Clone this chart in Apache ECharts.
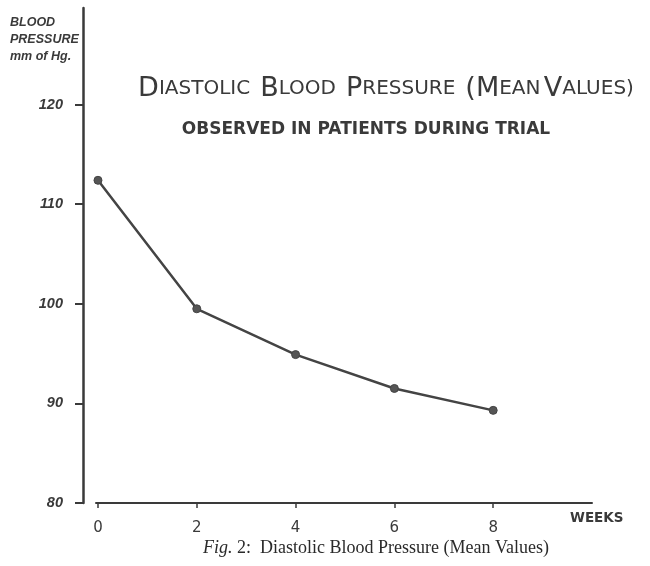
<!DOCTYPE html>
<html>
<head>
<meta charset="utf-8">
<script src="https://cdn.jsdelivr.net/npm/echarts@6/dist/echarts.min.js"></script>
<style>
html,body{margin:0;padding:0;background:#ffffff;}
#chart{width:650px;height:566px;}
</style>
</head>
<body>
<div id="chart"></div>
<script>
// Data
const weeks = [0, 2, 4, 6, 8];
const diastolicMean = [112.4, 99.5, 94.9, 91.5, 89.3];
const yTicks = [80, 90, 100, 110, 120];
const xTicks = [0, 2, 4, 6, 8];
const xAxisTitle = 'WEEKS';
const yAxisTitle = 'BLOOD\nPRESSURE\nmm of Hg.';
const subtitle = 'OBSERVED IN PATIENTS DURING TRIAL';
const caption = 'Diastolic Blood Pressure (Mean Values)';

const ink = '#3a3a3a';
const chart = echarts.init(document.getElementById('chart'), null, {renderer: 'canvas'});

const option = {
  backgroundColor: '#ffffff',
  animation: false,
  grid: {left: 96, right: 58, top: 8, bottom: 63, containLabel: false},
  xAxis: {
    type: 'value',
    min: -0.04,
    max: 10,
    splitLine: {show: false},
    name: xAxisTitle,
    nameLocation: 'end',
    nameGap: -22,
    nameTextStyle: {fontFamily: 'DejaVu Sans', fontSize: 13.5, fontWeight: 'bold', color: ink,
      align: 'left', verticalAlign: 'top', padding: [8, 0, 0, 0]},
    axisLine: {show: true, onZero: false, lineStyle: {color: ink, width: 2}},
    axisTick: {show: true, customValues: xTicks, inside: false, length: 5, lineStyle: {color: ink, width: 1.5}},
    axisLabel: {
      customValues: xTicks,
      margin: 18,
      color: ink,
      fontFamily: 'DejaVu Sans',
      fontSize: 15
    }
  },
  yAxis: {
    type: 'value',
    min: 80,
    max: 129.7,
    offset: 13,
    splitLine: {show: false},
    axisLine: {show: true, onZero: false, lineStyle: {color: ink, width: 2.5}},
    axisTick: {show: true, customValues: yTicks, length: 8, lineStyle: {color: ink, width: 2}},
    axisLabel: {
      customValues: yTicks,
      margin: 20,
      color: ink,
      fontFamily: 'Liberation Sans',
      fontStyle: 'italic',
      fontWeight: 'bold',
      fontSize: 14.5
    }
  },
  graphic: [
    {
      type: 'text', left: 10, top: 14,
      style: {text: yAxisTitle, fill: ink, font: 'italic bold 12.5px "Liberation Sans"', lineHeight: 17}
    },
    {
      type: 'text', x: 386, y: 89,
      style: {
        text: '{b|D}{s|IASTOLIC}   {b|B}{s|LOOD}   {b|P}{s|RESSURE}   {b|(M}{s|EAN} {b|V}{s|ALUES)}',
        align: 'center', verticalAlign: 'middle', fill: ink,
        rich: {
          b: {fontFamily: 'DejaVu Sans', fontSize: 27, fontWeight: 'normal', color: ink},
          s: {fontFamily: 'DejaVu Sans', fontSize: 20, fontWeight: 'normal', color: ink}
        }
      }
    },
    {
      type: 'text', x: 366, y: 130,
      style: {text: subtitle, align: 'center', verticalAlign: 'middle', fill: ink,
        font: 'bold 17px "DejaVu Sans"'}
    },
    {
      type: 'text', x: 376, y: 548,
      style: {
        text: '{i|Fig.} 2:  ' + caption,
        align: 'center', verticalAlign: 'middle', fill: '#2a2a2a',
        rich: {
          i: {fontFamily: 'Liberation Serif', fontStyle: 'italic', fontSize: 18, color: '#2a2a2a'}
        },
        font: '18px "Liberation Serif"'
      }
    }
  ],
  series: [{
    type: 'line',
    data: weeks.map((w, i) => [w, diastolicMean[i]]),
    symbol: 'circle',
    symbolSize: 8,
    lineStyle: {color: '#444', width: 2.5},
    itemStyle: {color: '#555', borderColor: '#444', borderWidth: 1},
    z: 3
  }]
};
chart.setOption(option);
</script>
</body>
</html>
